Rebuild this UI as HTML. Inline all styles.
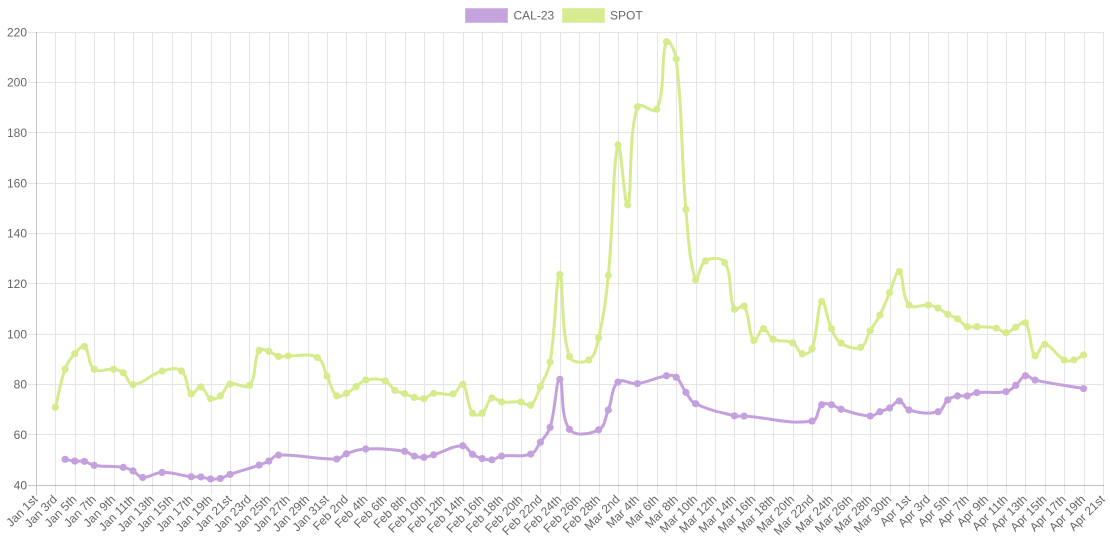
<!DOCTYPE html>
<html>
<head>
<meta charset="utf-8">
<style>
html,body{margin:0;padding:0;background:#fff;}
svg{display:block;}
text{font-family:"Liberation Sans",Arial,sans-serif;font-size:12px;fill:#666;}
.xl text{text-anchor:end;}
.yl text{text-anchor:end;}
</style>
</head>
<body>
<svg id="c" width="1110" height="555" viewBox="0 0 1110 555" xmlns="http://www.w3.org/2000/svg">
<rect width="1110" height="555" fill="#fff"/>
<!-- legend -->
<rect x="465.5" y="8.5" width="42" height="14" fill="#c5a3dd" stroke="#d3b9e6" stroke-width="1"/>
<text x="513.5" y="19.5">CAL-23</text>
<rect x="562.5" y="8.5" width="42" height="14" fill="#d7eb8f" stroke="#e1f0aa" stroke-width="1"/>
<text x="610" y="19.5">SPOT</text>
<!-- grid -->
<path fill="none" stroke="rgba(0,0,0,0.1)" stroke-width="1" d="M55.5,32V495M75.5,32V495M94.5,32V495M114.5,32V495M133.5,32V495M152.5,32V495M172.5,32V495M191.5,32V495M211.5,32V495M230.5,32V495M249.5,32V495M269.5,32V495M288.5,32V495M308.5,32V495M327.5,32V495M346.5,32V495M366.5,32V495M385.5,32V495M405.5,32V495M424.5,32V495M443.5,32V495M463.5,32V495M482.5,32V495M502.5,32V495M521.5,32V495M540.5,32V495M560.5,32V495M579.5,32V495M599.5,32V495M618.5,32V495M637.5,32V495M657.5,32V495M676.5,32V495M696.5,32V495M715.5,32V495M734.5,32V495M754.5,32V495M773.5,32V495M793.5,32V495M812.5,32V495M831.5,32V495M851.5,32V495M870.5,32V495M890.5,32V495M909.5,32V495M928.5,32V495M948.5,32V495M967.5,32V495M987.5,32V495M1006.5,32V495M1025.5,32V495M1045.5,32V495M1064.5,32V495M1084.5,32V495M1103.5,32V495M28,32.5H1104M28,82.5H1104M28,132.5H1104M28,183.5H1104M28,233.5H1104M28,283.5H1104M28,334.5H1104M28,384.5H1104M28,434.5H1104"/>
<path fill="none" stroke="rgba(0,0,0,0.22)" stroke-width="1" d="M36.5,32V495M28,485.5H1104"/>
<!-- y labels -->
<g class="yl">
<text x="27" y="36.3">220</text>
<text x="27" y="86.6">200</text>
<text x="27" y="137">180</text>
<text x="27" y="187.3">160</text>
<text x="27" y="237.6">140</text>
<text x="27" y="288">120</text>
<text x="27" y="338.3">100</text>
<text x="27" y="388.6">80</text>
<text x="27" y="439">60</text>
<text x="27" y="489.3">40</text>
</g>
<!-- x labels -->
<g class="xl" transform="translate(-5,0)">
<text transform="translate(43.5,500) rotate(-45)">Jan 1st</text>
<text transform="translate(62.9,500) rotate(-45)">Jan 3rd</text>
<text transform="translate(82.3,500) rotate(-45)">Jan 5th</text>
<text transform="translate(101.7,500) rotate(-45)">Jan 7th</text>
<text transform="translate(121.1,500) rotate(-45)">Jan 9th</text>
<text transform="translate(140.5,500) rotate(-45)">Jan 11th</text>
<text transform="translate(159.9,500) rotate(-45)">Jan 13th</text>
<text transform="translate(179.3,500) rotate(-45)">Jan 15th</text>
<text transform="translate(198.7,500) rotate(-45)">Jan 17th</text>
<text transform="translate(218.1,500) rotate(-45)">Jan 19th</text>
<text transform="translate(237.5,500) rotate(-45)">Jan 21st</text>
<text transform="translate(256.9,500) rotate(-45)">Jan 23rd</text>
<text transform="translate(276.3,500) rotate(-45)">Jan 25th</text>
<text transform="translate(295.7,500) rotate(-45)">Jan 27th</text>
<text transform="translate(315.1,500) rotate(-45)">Jan 29th</text>
<text transform="translate(334.5,500) rotate(-45)">Jan 31st</text>
<text transform="translate(353.9,500) rotate(-45)">Feb 2nd</text>
<text transform="translate(373.3,500) rotate(-45)">Feb 4th</text>
<text transform="translate(392.7,500) rotate(-45)">Feb 6th</text>
<text transform="translate(412.1,500) rotate(-45)">Feb 8th</text>
<text transform="translate(431.5,500) rotate(-45)">Feb 10th</text>
<text transform="translate(450.9,500) rotate(-45)">Feb 12th</text>
<text transform="translate(470.3,500) rotate(-45)">Feb 14th</text>
<text transform="translate(489.7,500) rotate(-45)">Feb 16th</text>
<text transform="translate(509.1,500) rotate(-45)">Feb 18th</text>
<text transform="translate(528.5,500) rotate(-45)">Feb 20th</text>
<text transform="translate(547.9,500) rotate(-45)">Feb 22nd</text>
<text transform="translate(567.3,500) rotate(-45)">Feb 24th</text>
<text transform="translate(586.7,500) rotate(-45)">Feb 26th</text>
<text transform="translate(606.1,500) rotate(-45)">Feb 28th</text>
<text transform="translate(625.5,500) rotate(-45)">Mar 2nd</text>
<text transform="translate(644.9,500) rotate(-45)">Mar 4th</text>
<text transform="translate(664.3,500) rotate(-45)">Mar 6th</text>
<text transform="translate(683.7,500) rotate(-45)">Mar 8th</text>
<text transform="translate(703.1,500) rotate(-45)">Mar 10th</text>
<text transform="translate(722.5,500) rotate(-45)">Mar 12th</text>
<text transform="translate(741.9,500) rotate(-45)">Mar 14th</text>
<text transform="translate(761.3,500) rotate(-45)">Mar 16th</text>
<text transform="translate(780.7,500) rotate(-45)">Mar 18th</text>
<text transform="translate(800.1,500) rotate(-45)">Mar 20th</text>
<text transform="translate(819.5,500) rotate(-45)">Mar 22nd</text>
<text transform="translate(838.9,500) rotate(-45)">Mar 24th</text>
<text transform="translate(858.3,500) rotate(-45)">Mar 26th</text>
<text transform="translate(877.7,500) rotate(-45)">Mar 28th</text>
<text transform="translate(897.1,500) rotate(-45)">Mar 30th</text>
<text transform="translate(916.5,500) rotate(-45)">Apr 1st</text>
<text transform="translate(935.9,500) rotate(-45)">Apr 3rd</text>
<text transform="translate(955.3,500) rotate(-45)">Apr 5th</text>
<text transform="translate(974.7,500) rotate(-45)">Apr 7th</text>
<text transform="translate(994.1,500) rotate(-45)">Apr 9th</text>
<text transform="translate(1013.5,500) rotate(-45)">Apr 11th</text>
<text transform="translate(1032.9,500) rotate(-45)">Apr 13th</text>
<text transform="translate(1052.3,500) rotate(-45)">Apr 15th</text>
<text transform="translate(1071.7,500) rotate(-45)">Apr 17th</text>
<text transform="translate(1091.1,500) rotate(-45)">Apr 19th</text>
<text transform="translate(1110.5,500) rotate(-45)">Apr 21st</text>
</g>
<g id="series"></g>
</svg>
<script>
(function(){
var X0=36, PX=1067/110, Y0=485, PY=453/180;
var cal=[[3,50.2],[4,49.5],[5,49.4],[6,47.8],[9,47.0],[10,45.6],[11,43.0],[13,45.0],[16,43.3],[17,43.2],[18,42.4],[19,42.6],[20,44.2],[23,47.9],[24,49.5],[25,51.9],[31,50.3],[32,52.4],[34,54.3],[38,53.4],[39,51.5],[40,51.0],[41,52.0],[44,55.6],[45,52.2],[46,50.5],[47,50.0],[48,51.5],[51,52.3],[52,57.0],[53,62.9],[54,82.0],[55,62.1],[58,61.9],[59,69.8],[60,80.9],[62,80.3],[65,83.4],[66,82.8],[67,76.8],[68,72.3],[72,67.5],[73,67.4],[80,65.4],[81,71.9],[82,71.9],[83,70.1],[86,67.4],[87,69.1],[88,70.6],[89,73.4],[90,69.8],[93,69.1],[94,73.8],[95,75.4],[96,75.4],[97,76.7],[100,77.1],[101,79.6],[102,83.4],[103,81.7],[108,78.3]];
var spot=[[2,70.9],[3,86],[4,92.2],[5,95],[6,86],[8,86],[9,84.6],[10,79.9],[13,85.3],[15,85.3],[16,76.2],[17,79],[18,74.3],[19,75.4],[20,80.1],[22,79.6],[23,93.5],[24,93.1],[25,91.1],[26,91.3],[29,90.7],[30,83.3],[31,75.4],[32,76.4],[33,79.1],[34,81.7],[36,81.4],[37,77.6],[38,76.3],[39,74.8],[40,74.3],[41,76.4],[43,76.2],[44,80],[45,68.5],[46,68.5],[47,74.6],[48,73],[50,73],[51,71.7],[52,79.1],[53,88.9],[54,123.7],[55,91],[57,89.7],[58,98.5],[59,123.3],[60,175.1],[61,151.3],[62,190.3],[64,189.3],[65,216.2],[66,209.3],[67,149.5],[68,121.5],[69,129],[71,128.4],[72,109.8],[73,111.1],[74,97.4],[75,102.1],[76,97.9],[78,96.5],[79,92.1],[80,94.1],[81,112.9],[82,102.1],[83,96.4],[85,94.7],[86,101.3],[87,107.5],[88,116.4],[89,124.8],[90,111.5],[92,111.5],[93,110.3],[94,107.8],[95,106],[96,102.9],[97,102.9],[99,102.3],[100,100.5],[101,102.7],[102,104.5],[103,91.3],[104,95.9],[106,89.7],[107,89.7],[108,91.7]];
function pts(d){return d.map(function(a){return [X0+a[0]*PX, Y0-(a[1]-40)*PY];});}
function cl(v,a,b){return Math.max(a,Math.min(b,v));}
function path(p,t){
  var cps=[];
  for(var i=0;i<p.length;i++){
    var prev=p[i-1]||p[i], cur=p[i], next=p[i+1]||p[i];
    var d01=Math.hypot(cur[0]-prev[0],cur[1]-prev[1]);
    var d12=Math.hypot(next[0]-cur[0],next[1]-cur[1]);
    var s01=d01/(d01+d12), s12=d12/(d01+d12);
    if(isNaN(s01))s01=0; if(isNaN(s12))s12=0;
    var fa=t*s01, fb=t*s12;
    cps.push({p:[cl(cur[0]-fa*(next[0]-prev[0]),36,1103), cl(cur[1]-fa*(next[1]-prev[1]),32,485)],
              n:[cl(cur[0]+fb*(next[0]-prev[0]),36,1103), cl(cur[1]+fb*(next[1]-prev[1]),32,485)]});
  }
  var s='M'+p[0][0].toFixed(2)+','+p[0][1].toFixed(2);
  for(var j=1;j<p.length;j++){
    s+=' C'+cps[j-1].n[0].toFixed(2)+','+cps[j-1].n[1].toFixed(2)+' '+cps[j].p[0].toFixed(2)+','+cps[j].p[1].toFixed(2)+' '+p[j][0].toFixed(2)+','+p[j][1].toFixed(2);
  }
  return s;
}
var NS='http://www.w3.org/2000/svg';
var g=document.getElementById('series');
function draw(data,color){
  var p=pts(data);
  var pa=document.createElementNS(NS,'path');
  pa.setAttribute('d',path(p,0.4));
  pa.setAttribute('fill','none');
  pa.setAttribute('stroke',color);
  pa.setAttribute('stroke-width','3');
  pa.setAttribute('stroke-linejoin','round');
  g.appendChild(pa);
  p.forEach(function(q){
    var c=document.createElementNS(NS,'circle');
    c.setAttribute('cx',q[0].toFixed(2));
    c.setAttribute('cy',q[1].toFixed(2));
    c.setAttribute('r','3.6');
    c.setAttribute('fill',color);
    g.appendChild(c);
  });
}
draw(spot,'#d6eb8c');
draw(cal,'#c5a0de');
})();
</script>
</body>
</html>
